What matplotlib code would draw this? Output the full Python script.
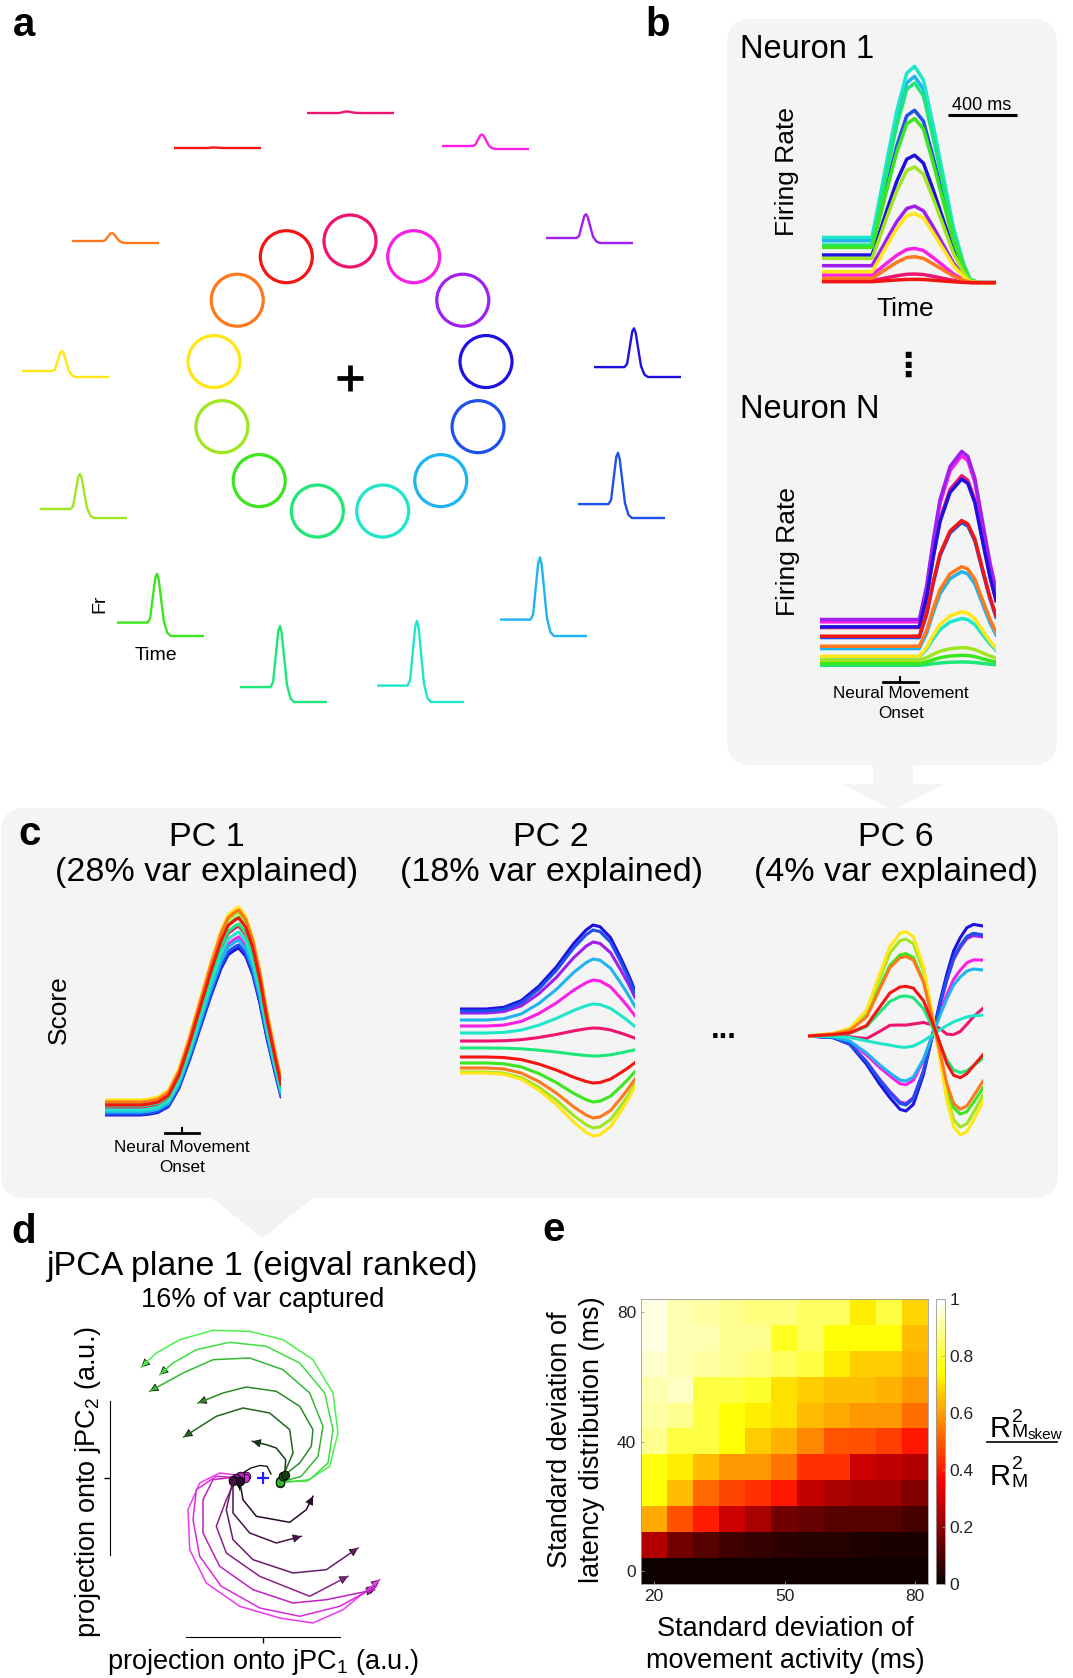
import numpy as np
import matplotlib
matplotlib.use("Agg")
import matplotlib.pyplot as plt
from matplotlib.patches import FancyBboxPatch, Polygon, Circle, FancyArrowPatch

plt.rcParams["font.family"] = ["Liberation Sans", "DejaVu Sans"]

W, H = 1073, 1678
BOX = "#f4f4f4"

# ---------------- data ----------------
# 13 reach targets, clockwise starting from the top one
TARGETS = ["crimson", "magenta", "purple", "blue", "royal", "sky", "aqua",
           "spring", "green", "lime", "yellow", "orange", "red"]
COLORS = ["#ee1470", "#fa1ee6", "#a01ef0", "#1e10e0", "#1e50ec", "#1eb4f0", "#1ee6c8",
          "#1ee678", "#3ce61e", "#a0e61e", "#ffe614", "#ff781e", "#f51414"]
TARGET_ANGLE = [90.0, 62.3, 34.6, 6.9, -20.8, -48.5, -76.2, -103.8, -131.5, -159.2,
                173.1, 145.4, 117.7]

# panel a: firing rate of one neuron per target
A_BEFORE = [2, 5, 7, 11.9, 15.9, 18.4, 18.4, 16.9, 15.4, 11, 8, 4, 2]
A_PEAK = [3.5, 16.5, 30.8, 50.7, 67.2, 80.6, 83.1, 78.1, 64.2, 46, 28, 12, 2.5]
A_AFTER = [2, 2, 2, 2, 2, 2, 2, 2, 2, 2, 2, 2, 2]
A_X = np.array([0, 0.1, 0.2, 0.3, 0.35, 0.38, 0.41, 0.44, 0.46, 0.48, 0.51, 0.54, 0.58, 0.62, 0.7, 0.8, 0.9, 1.0])
A_BUMP = np.array([0, 0, 0, 0, 0, 0.08, 0.5, 0.92, 1.0, 0.9, 0.55, 0.22, 0.06, 0, 0, 0, 0, 0])
A_STEP = np.array([0, 0, 0, 0, 0, 0, 0, 0, 0, 0.1, 0.4, 0.75, 1, 1, 1, 1, 1, 1])

# panel b: neuron 1 and neuron N
N1_BASE = [2.8, 4.5, 7.3, 10.5, 13.0, 14.8, 15.8, 13.5, 12.8, 9.5, 5.5, 3.5, 2.5]
N1_PEAK = [4.8, 12.5, 25.2, 40.5, 54.0, 64.2, 67.2, 62.2, 51.5, 37.0, 23.0, 10.0, 3.2]
N1_END = 2.2
N1_X = np.array([0, 0.1, 0.2, 0.287, 0.33, 0.373, 0.43, 0.487, 0.532, 0.583, 0.64, 0.698, 0.755, 0.813, 0.85, 0.9, 1.0])
N1_BUMP = np.array([0, 0, 0, 0, 0.22, 0.45, 0.74, 0.96, 1, 0.92, 0.69, 0.46, 0.23, 0.08, 0.02, 0, 0])
N1_STEP = np.array([0, 0, 0, 0, 0, 0, 0, 0, 0, 0, 0.15, 0.4, 0.65, 0.88, 1, 1, 1])

NN_BASE = [14.8, 16.5, 17.2, 15.0, 11.8, 8.5, 6.0, 3.5, 4.0, 5.0, 6.2, 9.2, 12.2]
NN_PEAK = [60.2, 66.2, 67.5, 59.2, 46.2, 31.5, 17.5, 4.5, 6.5, 8.8, 19.5, 33.0, 46.8]
NN_X = np.array([0, 0.2, 0.4, 0.52, 0.564, 0.606, 0.644, 0.682, 0.739, 0.805, 0.84, 0.88, 0.928, 0.966, 1.0])
NN_BUMP = np.array([0, 0, 0, 0, 0, 0.2, 0.475, 0.713, 0.91, 1.0, 0.97, 0.84, 0.554, 0.337, 0.178])

# panel c: PC scores
PC1_BASE = [1.2, 1.0, 0.7, 0.5, 0.6, 0.8, 1.0, 1.4, 1.6, 1.9, 2.0, 1.8, 1.5]
PC1_PEAK = [19.4, 18.3, 17.5, 17.2, 17.5, 18.0, 18.8, 19.6, 20.3, 20.8, 21.3, 21.0, 20.2]
PC1_X = np.array([0, 0.1, 0.2, 0.25, 0.3, 0.36, 0.42, 0.48, 0.54, 0.6, 0.66, 0.7, 0.74, 0.76, 0.8, 0.84, 0.88, 0.92, 0.96, 1.0])
PC1_SHAPE = np.array([0, 0, 0, 0.005, 0.015, 0.05, 0.16, 0.33, 0.52, 0.71, 0.88, 0.96, 0.99, 1.0, 0.95, 0.84, 0.67, 0.46, 0.28, 0.11])

PC2_START = [9.9, 11.4, 12.7, 13.1, 12.9, 12.0, 10.7, 9.2, 7.7, 6.8, 6.7, 7.2, 8.3]
PC2_EXTREME = [11.2, 16.0, 19.8, 21.5, 21.0, 18.1, 13.6, 8.4, 3.8, 1.2, 0.4, 2.2, 5.7]
PC2_X = np.array([0, 0.15, 0.25, 0.35, 0.45, 0.55, 0.65, 0.72, 0.76, 0.8, 0.86, 0.92, 0.96, 1.0])
PC2_SHAPE = np.array([0, 0, 0.02, 0.1, 0.27, 0.5, 0.78, 0.94, 1.0, 0.98, 0.85, 0.6, 0.42, 0.22])

PC6_START = 10.4
PC6_X = np.array([0, 0.143, 0.239, 0.335, 0.411, 0.468, 0.526, 0.56, 0.602, 0.66, 0.717, 0.755,
                  0.793, 0.832, 0.87, 0.908, 0.946, 1.0])
PC6_EARLY = np.array([0, 0.27, 0.77, 2.6, 6.27, 8.93, 10.27, 10.43, 9.93, 6.93, 1.6, -2.4,
                      -6.4, -9.07, -9.9, -9.57, -8.4, -6.57])
PC6_LATE = np.array([0, -0.17, -0.84, -2.84, -4.84, -6.17, -7.34, -7.5, -6.84, -3.84, 0.5, 3.5,
                     6.16, 8.5, 9.83, 10.83, 11.16, 11.0])
PC6_W_EARLY = [0.5, 0.05, 0, 0, 0, 0, 0.05, 0.42, 0.79, 0.95, 1.0, 0.82, 0.62]
PC6_W_LATE = [0.55, 0.72, 0.9, 1.0, 0.92, 0.6, 0.22, 0.05, 0, 0.03, 0, 0.08, 0.2]

# panel d: jPCA trajectories (a.u.)
JPC_COLORS = ["#4cf04c", "#40dc40", "#34b834", "#2a8a2a", "#226622", "#163c16",
              "#f038f0", "#dc2adc", "#c020c0", "#8a1f8a", "#6a1a6a", "#4a124a", "#2a0a2a"]
JPC_TRAJ = [
    [(16.7, -3.3), (43.3, -3.3), (66.7, 11.7), (75, 45), (70, 85), (50, 118.3), (20, 138.3),
     (-13.3, 146.7), (-50, 147.7), (-83.3, 138.3), (-106.7, 125), (-121.7, 110.7)],
    [(16.7, -5), (46.7, -1.7), (65, 15), (70, 48.3), (61.7, 85), (36.7, 115), (3.3, 131.7),
     (-33.3, 135.7), (-66.7, 128.3), (-90, 115), (-103.3, 103.3)],
    [(16.7, -4.3), (38.3, 1.7), (55, 21.7), (60, 51.7), (46.7, 85), (20, 108.3), (-13.3, 120),
     (-50, 118.3), (-80, 105), (-113.3, 86.7)],
    [(20, 1.7), (36.7, 15), (48.3, 31.7), (50, 48.3), (36.7, 71.7), (13.3, 86.7), (-16.7, 91),
     (-40, 85), (-65, 75)],
    [(20, 1.7), (30, 25), (26.7, 48.3), (6.7, 65), (-20, 70), (-46.7, 61.7), (-79.3, 41)],
    [(21.7, 3.3), (22.7, 18.3), (13.3, 30), (3.3, 33.3), (-10.7, 36.7)],
    [(-16.7, 1.7), (-43.3, 5), (-63.3, -5), (-75, -31.7), (-73.3, -71.7), (-56.7, -105),
     (-23.3, -128.3), (16.7, -140), (50, -145), (80, -131.7), (116.7, -101.7)],
    [(-18.3, 0), (-46.7, 1.7), (-66.7, -11.7), (-70, -41.7), (-63.3, -78.3), (-41.7, -108.3),
     (-3.3, -130), (36.7, -138.3), (76.7, -128.3), (113.3, -108.3)],
    [(-23.3, 1.7), (-50, -1.7), (-60, -21.7), (-60, -55), (-43.3, -88.3), (-10, -111.7),
     (30, -125), (63.3, -121.7), (111.7, -111.7)],
    [(-26.7, 0), (-36.7, -21.7), (-46.7, -48.3), (-36.7, -75), (-3.3, -98.3), (46.7, -118.3),
     (85, -98.3)],
    [(-30, -1.7), (-36.7, -31.7), (-30, -61.7), (-10, -81.7), (30, -95), (63.3, -91.7), (95, -70)],
    [(-30, -3.3), (-30, -35), (-13.3, -55), (13.3, -65), (38.3, -58.3)],
    [(-23.3, -3.3), (-20, -21.7), (-6.7, -38.3), (26.7, -44.3), (43.3, -31.7), (50, -18.3)],
]
JPC_SQUIGGLE = [(8, 4), (4, 11.7), (-3.3, 12.5), (-12, 10), (-22, 4), (-24, -3), (-23.3, -11.7)]

# panel e
HEAT_X = [20, 26, 32, 38, 44, 50, 56, 62, 68, 74, 80]
HEAT_Y = [80, 72, 64, 56, 48, 40, 32, 24, 16, 8, 0]
HEAT = [
    [0.97, 0.92, 0.91, 0.89, 0.87, 0.87, 0.84, 0.84, 0.72, 0.81, 0.68],
    [0.97, 0.92, 0.92, 0.89, 0.89, 0.78, 0.84, 0.75, 0.75, 0.75, 0.645],
    [0.95, 0.92, 0.91, 0.89, 0.87, 0.84, 0.81, 0.72, 0.67, 0.67, 0.63],
    [0.92, 0.94, 0.81, 0.81, 0.79, 0.70, 0.67, 0.65, 0.65, 0.63, 0.59],
    [0.91, 0.89, 0.81, 0.75, 0.72, 0.70, 0.645, 0.62, 0.59, 0.59, 0.53],
    [0.89, 0.81, 0.81, 0.75, 0.67, 0.63, 0.57, 0.49, 0.485, 0.46, 0.40],
    [0.76, 0.72, 0.645, 0.59, 0.59, 0.54, 0.44, 0.44, 0.29, 0.27, 0.25],
    [0.75, 0.645, 0.52, 0.47, 0.44, 0.40, 0.275, 0.24, 0.23, 0.22, 0.18],
    [0.62, 0.485, 0.41, 0.29, 0.24, 0.16, 0.14, 0.115, 0.115, 0.115, 0.09],
    [0.25, 0.16, 0.115, 0.08, 0.07, 0.053, 0.046, 0.046, 0.034, 0.03, 0.03],
    [0.011, 0.011, 0.011, 0.011, 0.011, 0.011, 0.011, 0.011, 0.011, 0.011, 0.011],
]

# ---------------- layout ----------------
A_LEFT = [307, 442, 546, 594, 578, 500, 377, 240, 117, 40, 22, 72, 174]
A_BASE_Y = [113, 149, 243, 377, 518, 636, 702, 702, 636, 518, 377, 243, 148]

fig = plt.figure(figsize=(W / 100, H / 100), dpi=100)
bg = fig.add_axes([0, 0, 1, 1])
bg.set_xlim(0, W)
bg.set_ylim(H, 0)
bg.axis("off")


def px_axes(x0, y0, x1, y1):
    ax = fig.add_axes([x0 / W, 1 - y1 / H, (x1 - x0) / W, (y1 - y0) / H])
    ax.patch.set_alpha(0)
    return ax


def txt(x, y, s, size, **kw):
    kw.setdefault("ha", "center")
    kw.setdefault("va", "center")
    bg.text(x, y, s, fontsize=size, **kw)


# gray boxes and arrows
bg.add_patch(FancyBboxPatch((727, 19), 330, 746, boxstyle="round,pad=0,rounding_size=24",
                            fc=BOX, ec="none"))
bg.add_patch(Polygon([(873, 760), (913, 760), (913, 784), (945, 784), (893, 810),
                      (842, 784), (873, 784)], closed=True, fc=BOX, ec="none"))
bg.add_patch(FancyBboxPatch((1, 808), 1057, 390, boxstyle="round,pad=0,rounding_size=24",
                            fc=BOX, ec="none"))
bg.add_patch(Polygon([(212, 1198), (313, 1198), (262, 1238)], closed=True, fc="#f2f2f2", ec="none"))

# panel labels
for lab, x, y in [("a", 13, 36), ("b", 645, 36), ("c", 18, 845), ("d", 11, 1243), ("e", 542, 1241)]:
    txt(x, y, lab, 29, ha="left", va="baseline", fontweight="bold")

# ---- panel a ----
for i in range(len(TARGETS)):
    ax = px_axes(A_LEFT[i], A_BASE_Y[i] + 2 - 90, A_LEFT[i] + 87, A_BASE_Y[i] + 2)
    ax.set_xlim(0, 1)
    ax.set_ylim(0, 90)
    ax.axis("off")
    y = A_BEFORE[i] + (A_PEAK[i] - A_BEFORE[i]) * A_BUMP + (A_AFTER[i] - A_BEFORE[i]) * A_STEP
    ax.plot(A_X, y, color=COLORS[i], lw=1.7)

ring = px_axes(350 - 180, 378 - 180, 350 + 180, 378 + 180)
ring.set_xlim(-180, 180)
ring.set_ylim(-180, 180)
ring.axis("off")
for i, ang in enumerate(TARGET_ANGLE):
    ring.add_patch(Circle((137 * np.cos(np.radians(ang)), 137 * np.sin(np.radians(ang))), 26,
                          fill=False, ec=COLORS[i], lw=2.3))
ring.plot([0], [0], marker="+", ms=19, mew=3.4, color="k")
txt(100, 604, "Fr", 14, rotation=90)
txt(156, 656, "Time", 14)

# ---- panel b ----
txt(740, 58, "Neuron 1", 23.5, ha="left", va="baseline")
txt(740, 418, "Neuron N", 23.5, ha="left", va="baseline")
txt(908, 366, "\u22ee", 24, family="DejaVu Sans", fontweight="bold")
txt(787, 172, "Firing Rate", 19, rotation=90)
txt(905, 309, "Time", 19)
txt(982, 106, "400 ms", 13)
bg.plot([948, 1017], [115, 115], color="k", lw=2.2, solid_capstyle="butt")

ax = px_axes(822, 57, 996, 290)
ax.set_xlim(0, 1)
ax.set_ylim(0, 70)
ax.axis("off")
for i in range(len(TARGETS)):
    y = N1_BASE[i] + (N1_PEAK[i] - N1_BASE[i]) * N1_BUMP + (N1_END - N1_BASE[i]) * N1_STEP
    ax.plot(N1_X, y, color=COLORS[i], lw=2.5)

txt(788, 552, "Firing Rate", 19, rotation=90)
ax = px_axes(820, 443, 996, 677)
ax.set_xlim(0, 1)
ax.set_ylim(0, 70)
ax.axis("off")
for i in range(len(TARGETS)):
    y = NN_BASE[i] + (NN_PEAK[i] - NN_BASE[i]) * NN_BUMP
    ax.plot(NN_X, y, color=COLORS[i], lw=2.5)
bg.plot([883, 918], [682, 682], color="k", lw=2)
bg.plot([900, 900], [677, 682], color="k", lw=1.5)
txt(901, 694, "Neural Movement", 12.3)
txt(901, 714, "Onset", 12.3)

# ---- panel c ----
for cx, head, sub in [(207, "PC 1", "(28% var explained)"), (551, "PC 2", "(18% var explained)"),
                      (896, "PC 6", "(4% var explained)")]:
    txt(cx, 838, head, 24.5)
    txt(cx, 873, sub, 24.5)
txt(59, 1010, "Score", 19, rotation=90)
txt(724, 1030, "...", 22, fontweight="bold")

ax = px_axes(105, 900, 281, 1120)
ax.set_xlim(0, 1)
ax.set_ylim(0, 22)
ax.axis("off")
for i in range(len(TARGETS)):
    ax.plot(PC1_X, PC1_BASE[i] + (PC1_PEAK[i] - PC1_BASE[i]) * PC1_SHAPE, color=COLORS[i], lw=2.2)
bg.plot([165, 199], [1133, 1133], color="k", lw=2)
bg.plot([182, 182], [1128, 1133], color="k", lw=1.5)
txt(182, 1147, "Neural Movement", 12.3)
txt(182, 1167, "Onset", 12.3)

ax = px_axes(460, 920, 635, 1140)
ax.set_xlim(0, 1)
ax.set_ylim(0, 22)
ax.axis("off")
for i in range(len(TARGETS)):
    ax.plot(PC2_X, PC2_START[i] + (PC2_EXTREME[i] - PC2_START[i]) * PC2_SHAPE, color=COLORS[i], lw=2.2)

ax = px_axes(808, 920, 983, 1140)
ax.set_xlim(0, 1)
ax.set_ylim(0, 22)
ax.axis("off")
for i in range(len(TARGETS)):
    ax.plot(PC6_X, PC6_START + PC6_W_EARLY[i] * PC6_EARLY + PC6_W_LATE[i] * PC6_LATE,
            color=COLORS[i], lw=2.2)

# ---- panel d ----
txt(263, 1267, "jPCA plane 1 (eigval ranked)", 24.5)
txt(263, 1300, "16% of var captured", 19.5)
txt(88, 1482, r"projection onto jPC$\mathregular{_2}$ (a.u.)", 19.5, rotation=90)
txt(263, 1662, r"projection onto jPC$\mathregular{_1}$ (a.u.)", 19.5)

axd = px_axes(110, 1318, 420, 1637)
axd.set_xlim(-153, 157)
axd.set_ylim(-159, 160)
for s in ["top", "right"]:
    axd.spines[s].set_visible(False)
axd.spines["left"].set_bounds(-77, 77)
axd.spines["bottom"].set_bounds(-77, 77)
axd.set_xticks([0])
axd.set_yticks([0])
axd.set_xticklabels([])
axd.set_yticklabels([])
axd.tick_params(direction="out", length=4, width=1)
for traj, c in zip(JPC_TRAJ, JPC_COLORS):
    xs = [p[0] for p in traj]
    ys = [p[1] for p in traj]
    axd.plot(xs, ys, color=c, lw=1.1)
    dx, dy = xs[-1] - xs[-2], ys[-1] - ys[-2]
    n = np.hypot(dx, dy)
    axd.add_patch(FancyArrowPatch((xs[-1] - dx / n, ys[-1] - dy / n), (xs[-1], ys[-1]),
                                  arrowstyle="-|>", mutation_scale=13, fc=c, ec="#111", lw=0.6))
axd.plot([p[0] for p in JPC_SQUIGGLE], [p[1] for p in JPC_SQUIGGLE], color="k", lw=0.9)
axd.add_patch(FancyArrowPatch((-23.4, -10.7), (-23.3, -11.7), arrowstyle="-|>",
                              mutation_scale=12, fc="k", ec="k", lw=0.6))
for traj, c in zip(JPC_TRAJ, JPC_COLORS):
    axd.scatter([traj[0][0]], [traj[0][1]], s=38, c=c, edgecolors="k", linewidths=0.6, zorder=5)
axd.plot([0], [0], marker="+", ms=9, mew=1.6, color="#2020ff", zorder=6)

# ---- panel e ----
axe = px_axes(641, 1299, 928, 1584)
im = axe.imshow(np.array(HEAT), cmap="hot", vmin=0, vmax=1, origin="upper", aspect="auto",
                interpolation="nearest",
                extent=[HEAT_X[0] - 3, HEAT_X[-1] + 3, HEAT_Y[-1] - 4, HEAT_Y[0] + 4])
axe.set_xticks([20, 50, 80])
axe.set_yticks([0, 40, 80])
axe.tick_params(labelsize=12.5, length=2.5, direction="in", width=0.6, colors="#999",
                labelcolor="#222")
for s in axe.spines.values():
    s.set_color("#999")
    s.set_linewidth(0.6)
cax = px_axes(936, 1299, 945, 1584)
cb = fig.colorbar(im, cax=cax)
cb.set_ticks([0, 0.2, 0.4, 0.6, 0.8, 1])
cb.set_ticklabels(["0", "0.2", "0.4", "0.6", "0.8", "1"])
cax.tick_params(labelsize=12.5, length=2.5, direction="in", width=0.6, colors="#999",
                labelcolor="#222")
cb.outline.set_edgecolor("#999")
cb.outline.set_linewidth(0.6)

txt(576, 1440, "Standard deviation of\nlatency distribution (ms)", 19.5, rotation=90,
    linespacing=1.3)
txt(785, 1645, "Standard deviation of\nmovement activity (ms)", 19.5, linespacing=1.25)

# colorbar label: R^2_{M_skew} / R^2_M
txt(990, 1437, "R", 21, ha="left", va="baseline")
txt(1012, 1422, "2", 14, ha="left", va="baseline")
txt(1011, 1437, "M", 14, ha="left", va="baseline")
txt(1028, 1439, "skew", 11, ha="left", va="baseline")
bg.plot([987, 1057], [1442, 1442], color="k", lw=1.2)
txt(990, 1485, "R", 21, ha="left", va="baseline")
txt(1012, 1469, "2", 14, ha="left", va="baseline")
txt(1011, 1487, "M", 14, ha="left", va="baseline")

fig.savefig("out.png", dpi=100)
